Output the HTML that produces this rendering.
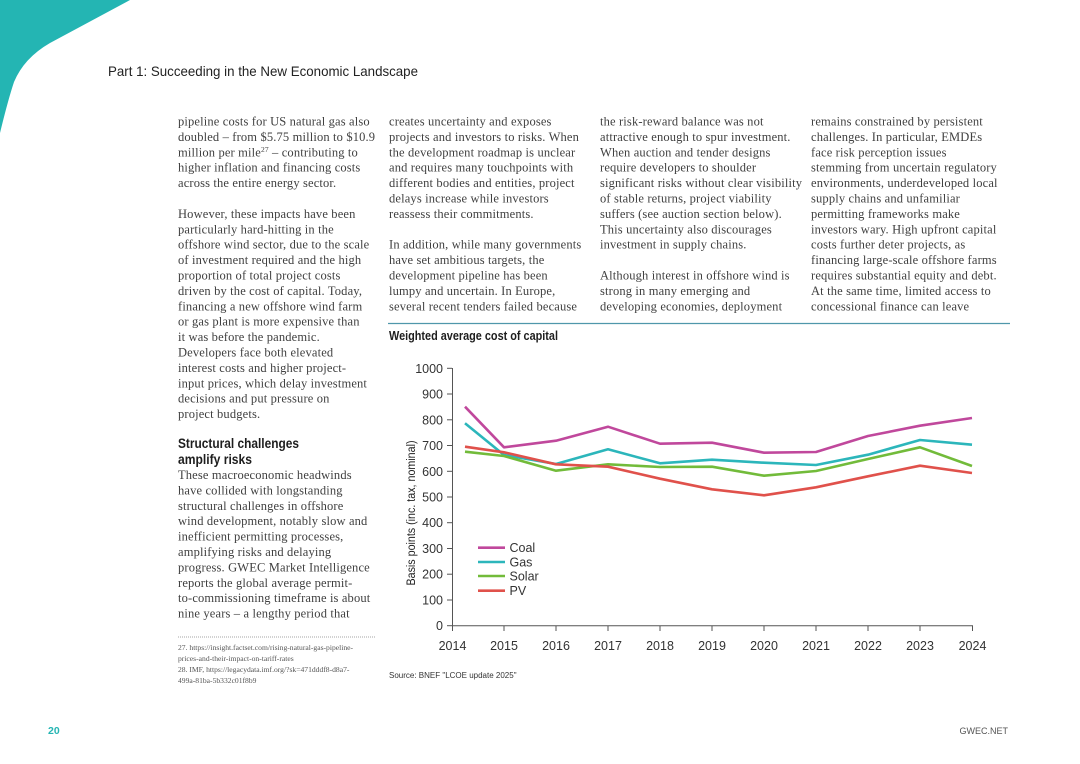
<!DOCTYPE html>
<html>
<head>
<meta charset="utf-8">
<style>
  html, body { margin: 0; padding: 0; background: #fff; }
  body { width: 1080px; height: 764px; overflow: hidden; }
  svg { display: block; }
  .body { font-family: "Liberation Serif", serif; font-size: 12.5px; fill: #404040; letter-spacing: 0.15px; }
  .sans { font-family: "Liberation Sans", sans-serif; }
  .tick { font-family: "Liberation Sans", sans-serif; font-size: 12.5px; fill: #333; }
  .fn { font-family: "Liberation Serif", serif; font-size: 7.6px; fill: #555; }
</style>
</head>
<body>
<svg width="1080" height="764" viewBox="0 0 1080 764" xmlns="http://www.w3.org/2000/svg">
  <path d="M0,0 L130,0 L50,43 Q24,58 14,82 Q8,100 0,133 Z" fill="#24b5b3"/>

  <text x="108" y="76" class="sans" font-size="14" fill="#222" textLength="310" lengthAdjust="spacingAndGlyphs">Part 1: Succeeding in the New Economic Landscape</text>

  <g class="body">
    <text x="178" y="125.5">pipeline costs for US natural gas also</text>
    <text x="178" y="140.9">doubled – from $5.75 million to $10.9</text>
    <text x="178" y="156.3">million per mile<tspan font-size="7.5" dy="-4.5">27</tspan><tspan dy="4.5"> – contributing to</tspan></text>
    <text x="178" y="171.7">higher inflation and financing costs</text>
    <text x="178" y="187.1">across the entire energy sector.</text>
    <text x="178" y="217.9">However, these impacts have been</text>
    <text x="178" y="233.3">particularly hard-hitting in the</text>
    <text x="178" y="248.7">offshore wind sector, due to the scale</text>
    <text x="178" y="264.1">of investment required and the high</text>
    <text x="178" y="279.5">proportion of total project costs</text>
    <text x="178" y="294.9">driven by the cost of capital. Today,</text>
    <text x="178" y="310.3">financing a new offshore wind farm</text>
    <text x="178" y="325.7">or gas plant is more expensive than</text>
    <text x="178" y="341.1">it was before the pandemic.</text>
    <text x="178" y="356.5">Developers face both elevated</text>
    <text x="178" y="371.9">interest costs and higher project-</text>
    <text x="178" y="387.3">input prices, which delay investment</text>
    <text x="178" y="402.7">decisions and put pressure on</text>
    <text x="178" y="418.1">project budgets.</text>
    <text x="178" y="479">These macroeconomic headwinds</text>
    <text x="178" y="494.4">have collided with longstanding</text>
    <text x="178" y="509.8">structural challenges in offshore</text>
    <text x="178" y="525.2">wind development, notably slow and</text>
    <text x="178" y="540.6">inefficient permitting processes,</text>
    <text x="178" y="556">amplifying risks and delaying</text>
    <text x="178" y="571.4">progress. GWEC Market Intelligence</text>
    <text x="178" y="586.8">reports the global average permit-</text>
    <text x="178" y="602.2">to-commissioning timeframe is about</text>
    <text x="178" y="617.6">nine years – a lengthy period that</text>
  </g>
  <text x="178" y="448" class="sans" font-size="13.5" font-weight="bold" fill="#1e1e1e" textLength="121" lengthAdjust="spacingAndGlyphs">Structural challenges</text>
  <text x="178" y="464" class="sans" font-size="13.5" font-weight="bold" fill="#1e1e1e" textLength="74" lengthAdjust="spacingAndGlyphs">amplify risks</text>

  <g class="body">
    <text x="389" y="125.5">creates uncertainty and exposes</text>
    <text x="389" y="140.9">projects and investors to risks. When</text>
    <text x="389" y="156.3">the development roadmap is unclear</text>
    <text x="389" y="171.7">and requires many touchpoints with</text>
    <text x="389" y="187.1">different bodies and entities, project</text>
    <text x="389" y="202.5">delays increase while investors</text>
    <text x="389" y="217.9">reassess their commitments.</text>
    <text x="389" y="248.7">In addition, while many governments</text>
    <text x="389" y="264.1">have set ambitious targets, the</text>
    <text x="389" y="279.5">development pipeline has been</text>
    <text x="389" y="294.9">lumpy and uncertain. In Europe,</text>
    <text x="389" y="310.3">several recent tenders failed because</text>
  </g>

  <g class="body">
    <text x="600" y="125.5">the risk-reward balance was not</text>
    <text x="600" y="140.9">attractive enough to spur investment.</text>
    <text x="600" y="156.3">When auction and tender designs</text>
    <text x="600" y="171.7">require developers to shoulder</text>
    <text x="600" y="187.1">significant risks without clear visibility</text>
    <text x="600" y="202.5">of stable returns, project viability</text>
    <text x="600" y="217.9">suffers (see auction section below).</text>
    <text x="600" y="233.3">This uncertainty also discourages</text>
    <text x="600" y="248.7">investment in supply chains.</text>
    <text x="600" y="279.5">Although interest in offshore wind is</text>
    <text x="600" y="294.9">strong in many emerging and</text>
    <text x="600" y="310.3">developing economies, deployment</text>
  </g>

  <g class="body">
    <text x="811" y="125.5">remains constrained by persistent</text>
    <text x="811" y="140.9">challenges. In particular, EMDEs</text>
    <text x="811" y="156.3">face risk perception issues</text>
    <text x="811" y="171.7">stemming from uncertain regulatory</text>
    <text x="811" y="187.1">environments, underdeveloped local</text>
    <text x="811" y="202.5">supply chains and unfamiliar</text>
    <text x="811" y="217.9">permitting frameworks make</text>
    <text x="811" y="233.3">investors wary. High upfront capital</text>
    <text x="811" y="248.7">costs further deter projects, as</text>
    <text x="811" y="264.1">financing large-scale offshore farms</text>
    <text x="811" y="279.5">requires substantial equity and debt.</text>
    <text x="811" y="294.9">At the same time, limited access to</text>
    <text x="811" y="310.3">concessional finance can leave</text>
  </g>

  <line x1="388" y1="323.5" x2="1010" y2="323.5" stroke="#4f97ab" stroke-width="1.3"/>

  <text x="389" y="340" class="sans" font-size="12.5" font-weight="bold" fill="#1e1e1e" textLength="169" lengthAdjust="spacingAndGlyphs">Weighted average cost of capital</text>

  <text transform="translate(415,513) rotate(-90)" text-anchor="middle" class="sans" font-size="11.5" fill="#222" textLength="145" lengthAdjust="spacingAndGlyphs">Basis points (inc. tax, nominal)</text>

  <g stroke="#555" stroke-width="1">
    <line x1="452.5" y1="368" x2="452.5" y2="626"/>
    <line x1="452" y1="625.7" x2="973" y2="625.7"/>
    <line x1="447" y1="368.3" x2="452" y2="368.3"/>
    <line x1="447" y1="394.0" x2="452" y2="394.0"/>
    <line x1="447" y1="419.8" x2="452" y2="419.8"/>
    <line x1="447" y1="445.5" x2="452" y2="445.5"/>
    <line x1="447" y1="471.3" x2="452" y2="471.3"/>
    <line x1="447" y1="497.0" x2="452" y2="497.0"/>
    <line x1="447" y1="522.7" x2="452" y2="522.7"/>
    <line x1="447" y1="548.5" x2="452" y2="548.5"/>
    <line x1="447" y1="574.2" x2="452" y2="574.2"/>
    <line x1="447" y1="600.0" x2="452" y2="600.0"/>
    <line x1="447" y1="625.7" x2="452" y2="625.7"/>
    <line x1="452.5" y1="625.7" x2="452.5" y2="631"/>
    <line x1="504" y1="625.7" x2="504" y2="631"/>
    <line x1="556" y1="625.7" x2="556" y2="631"/>
    <line x1="608" y1="625.7" x2="608" y2="631"/>
    <line x1="660" y1="625.7" x2="660" y2="631"/>
    <line x1="712" y1="625.7" x2="712" y2="631"/>
    <line x1="764" y1="625.7" x2="764" y2="631"/>
    <line x1="816" y1="625.7" x2="816" y2="631"/>
    <line x1="868" y1="625.7" x2="868" y2="631"/>
    <line x1="920" y1="625.7" x2="920" y2="631"/>
    <line x1="972.5" y1="625.7" x2="972.5" y2="631"/>
  </g>

  <g class="tick" text-anchor="end">
    <text x="443" y="372.8">1000</text>
    <text x="443" y="398.5">900</text>
    <text x="443" y="424.3">800</text>
    <text x="443" y="450.0">700</text>
    <text x="443" y="475.8">600</text>
    <text x="443" y="501.5">500</text>
    <text x="443" y="527.2">400</text>
    <text x="443" y="553.0">300</text>
    <text x="443" y="578.7">200</text>
    <text x="443" y="604.5">100</text>
    <text x="443" y="630.2">0</text>
  </g>

  <g class="tick" text-anchor="middle">
    <text x="452.5" y="650">2014</text>
    <text x="504" y="650">2015</text>
    <text x="556" y="650">2016</text>
    <text x="608" y="650">2017</text>
    <text x="660" y="650">2018</text>
    <text x="712" y="650">2019</text>
    <text x="764" y="650">2020</text>
    <text x="816" y="650">2021</text>
    <text x="868" y="650">2022</text>
    <text x="920" y="650">2023</text>
    <text x="972.5" y="650">2024</text>
  </g>

  <g fill="none" stroke-width="2.6" stroke-linejoin="round" stroke-linecap="butt">
    <polyline stroke="#c0489c" points="465,406.7 504,447.3 556,440.7 608,426.7 660,443.7 712,442.7 764,452.7 816,452 868,436 920,425.7 972,418"/>
    <polyline stroke="#2cb6bb" points="465,423.3 504,455 556,464 608,449.3 660,463.3 712,459.7 764,462.7 816,465 868,454.7 920,440 972,444.7"/>
    <polyline stroke="#72bb3a" points="465,451.7 504,456 556,470.7 608,464.3 660,467 712,466.7 764,475.7 816,471 868,459 920,447.3 972,466"/>
    <polyline stroke="#e0514b" points="465,446.7 504,452.3 556,464.3 608,466.7 660,478.7 712,489.3 764,495.3 816,487.3 868,476.3 920,465.7 972,473"/>
  </g>

  <g stroke-width="2.6">
    <line x1="478" y1="547.7" x2="505" y2="547.7" stroke="#c0489c"/>
    <line x1="478" y1="562" x2="505" y2="562" stroke="#2cb6bb"/>
    <line x1="478" y1="576" x2="505" y2="576" stroke="#72bb3a"/>
    <line x1="478" y1="590.7" x2="505" y2="590.7" stroke="#e0514b"/>
  </g>
  <g class="tick" font-size="12.5">
    <text x="509.5" y="552">Coal</text>
    <text x="509.5" y="566.5">Gas</text>
    <text x="509.5" y="580.5">Solar</text>
    <text x="509.5" y="595">PV</text>
  </g>

  <text x="389" y="678" class="sans" font-size="8" fill="#333">Source: BNEF "LCOE update 2025"</text>

  <line x1="178" y1="637" x2="376" y2="637" stroke="#888" stroke-width="0.8" stroke-dasharray="1,1"/>
  <g class="fn">
    <text x="178" y="650">27. https://insight.factset.com/rising-natural-gas-pipeline-</text>
    <text x="178" y="661">prices-and-their-impact-on-tariff-rates</text>
    <text x="178" y="672">28. IMF, https://legacydata.imf.org/?sk=471dddf8-d8a7-</text>
    <text x="178" y="683">499a-81ba-5b332c01f8b9</text>
  </g>

  <text x="48" y="734" class="sans" font-size="10.5" font-weight="bold" fill="#24b5b3">20</text>
  <text x="1008" y="734" class="sans" font-size="9" fill="#555" text-anchor="end">GWEC.NET</text>
</svg>
</body>
</html>
